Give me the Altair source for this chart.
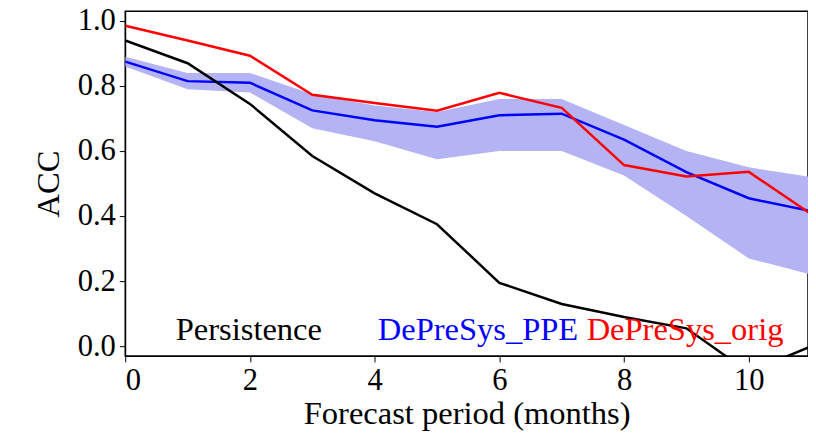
import altair as alt
import pandas as pd

months = list(range(12))
orig = [0.985, 0.94, 0.893, 0.773, 0.748, 0.724, 0.779, 0.733, 0.557, 0.522, 0.536, 0.406]
ppe = [0.875, 0.815, 0.81, 0.725, 0.695, 0.675, 0.71, 0.715, 0.635, 0.535, 0.455, 0.415]
ppe_hi = [0.89, 0.84, 0.84, 0.775, 0.74, 0.72, 0.76, 0.76, 0.68, 0.6, 0.55, 0.52]
ppe_lo = [0.86, 0.79, 0.78, 0.67, 0.63, 0.575, 0.6, 0.6, 0.525, 0.4, 0.27, 0.22]
persist = [0.94, 0.87, 0.745, 0.585, 0.47, 0.375, 0.195, 0.13, 0.09, 0.055, -0.08, 0.0]

labels = ["Persistence", "DePreSys_PPE", "DePreSys_orig"]
label_x = [0.81, 4.05, 7.4]
label_colors = ["black", "blue", "red"]

df = pd.DataFrame({"m": months, "orig": orig, "ppe": ppe, "hi": ppe_hi,
                   "lo": ppe_lo, "persist": persist})
lab = pd.DataFrame({"x": label_x, "y": [0.05] * 3, "t": labels, "c": label_colors})

FONT = "Liberation Serif"
xs = alt.Scale(domain=[0, 10.95], nice=False)
ys = alt.Scale(domain=[-0.03, 1.03], nice=False)

base = alt.Chart(df)
x = alt.X("m:Q", scale=xs, title="Forecast period (months)",
          axis=alt.Axis(values=[0, 2, 4, 6, 8, 10], format="d"))
y = alt.Y("ppe:Q", scale=ys, title="ACC",
          axis=alt.Axis(values=[0, 0.2, 0.4, 0.6, 0.8, 1.0], format=".1f"))

band = base.mark_area(color="#b4b4f5", clip=True).encode(x=x, y=alt.Y("hi:Q", scale=ys, title="ACC"), y2="lo:Q")
blue = base.mark_line(color="blue", strokeWidth=2.5, clip=True).encode(x=x, y=y)
red = base.mark_line(color="red", strokeWidth=2.5, clip=True).encode(x=x, y=alt.Y("orig:Q", scale=ys))
black = base.mark_line(color="black", strokeWidth=2.5, clip=True).encode(x=x, y=alt.Y("persist:Q", scale=ys))
text = alt.Chart(lab).mark_text(align="left", baseline="middle", font=FONT, fontSize=33).encode(
    x=alt.X("x:Q", scale=xs), y=alt.Y("y:Q", scale=ys),
    text="t:N", color=alt.Color("c:N", scale=None))

chart = (band + blue + red + black + text).properties(
    width=693, height=350,
    autosize=alt.AutoSizeParams(type="none"),
    padding={"left": 119, "top": 0, "right": 0, "bottom": 80},
).configure_view(stroke="black", strokeWidth=1.5).configure_axis(
    grid=False, labelFont=FONT, titleFont=FONT, labelFontSize=31, titleFontSize=33,
    titleFontWeight="normal", labelColor="black", titleColor="black",
    domainColor="black", tickColor="black", tickSize=6, labelPadding=4,
).configure_axisY(titlePadding=12).configure_axisX(titlePadding=3)

chart.save("out.html", embed_options={"renderer": "svg", "actions": False})
